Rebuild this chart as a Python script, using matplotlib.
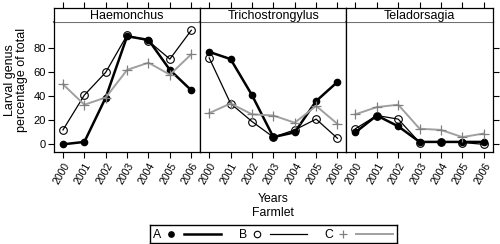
import matplotlib
matplotlib.use("Agg")
import matplotlib.pyplot as plt
import numpy as np

plt.rcParams['font.family'] = ['Liberation Sans', 'DejaVu Sans']

years = [2000, 2001, 2002, 2003, 2004, 2005, 2006]
genera = ['Haemonchus', 'Trichostrongylus', 'Teladorsagia']
farmlets = ['A', 'B', 'C']

# percentage of total, per genus, per farmlet
haem_a = [0, 2, 39, 90, 87, 62, 45]
haem_b = [12, 41, 60, 91, 86, 71, 95]
haem_c = [50, 33, 39, 62, 68, 58, 75]
tric_a = [77, 71, 41, 6, 10, 36, 52]
tric_b = [72, 34, 19, 6, 12, 21, 5]
tric_c = [26, 34, 25, 24, 18, 32, 17]
tela_a = [10, 24, 15, 2, 2, 2, 2]
tela_b = [13, 24, 21, 1.5, 2, 1.5, 0]
tela_c = [25, 31, 33, 13, 12, 6, 9]

data = {
    'Haemonchus': [haem_a, haem_b, haem_c],
    'Trichostrongylus': [tric_a, tric_b, tric_c],
    'Teladorsagia': [tela_a, tela_b, tela_c],
}

styles = [
    dict(color='black', lw=1.8, marker='o', ms=4.5, mfc='black', mec='black'),
    dict(color='black', lw=0.9, marker='o', ms=5.5, mfc='none', mec='black', mew=0.8),
    dict(color='#a0a0a0', lw=1.4, marker='+', ms=7, mfc='none', mec='#808080', mew=0.9),
]

W, H = 500, 244
fig = plt.figure(figsize=(W / 100, H / 100), dpi=100)

def box(x0, y0, x1, y1):
    # pixel box (top-left origin) -> figure fraction rect
    return [x0 / W, 1 - y1 / H, (x1 - x0) / W, (y1 - y0) / H]

left, right = 54, 492.7
top, strip_bot, bot = 7.7, 22, 152
pw = (right - left) / 3
xlim = (1999.58, 2006.42)
ylim = (-6.4, 101.9)

for i, g in enumerate(genera):
    x0 = left + i * pw
    ax = fig.add_axes(box(x0, strip_bot, x0 + pw, bot))
    for vals, st in zip(data[g], styles):
        ax.plot(years, vals, **st, clip_on=False)
    ax.set_xlim(*xlim)
    ax.set_ylim(*ylim)
    ax.set_xticks(years)
    ax.set_xticklabels([str(y) for y in years], rotation=60, ha='right',
                       va='top', rotation_mode='anchor', fontsize=7.5)
    ax.tick_params(axis='x', direction='out', length=4.5, width=0.8, pad=2)
    ax.set_yticks([0, 20, 40, 60, 80])
    if i == 0:
        ax.tick_params(axis='y', direction='out', length=4.5, width=0.8,
                       labelsize=8, pad=1.5)
    elif i == 2:
        ax.yaxis.tick_right()
        ax.tick_params(axis='y', direction='out', length=4.5, width=0.8,
                       labelright=False)
    else:
        ax.tick_params(axis='y', left=False, labelleft=False)
    ax.spines['top'].set_color('#707070')
    ax.spines['top'].set_linewidth(1.5)
    for s in ['left', 'right', 'bottom']:
        ax.spines[s].set_linewidth(0.9)

    # strip
    sx = fig.add_axes(box(x0, top, x0 + pw, strip_bot))
    sx.set_xlim(*xlim)
    sx.set_xticks(years)
    sx.xaxis.tick_top()
    sx.tick_params(axis='x', direction='out', length=4.5, width=0.8,
                   labeltop=False)
    sx.set_yticks([])
    sx.spines['bottom'].set_visible(False)
    for s in ['left', 'right', 'top']:
        sx.spines[s].set_linewidth(0.9)
    sx.text(0.5, 0.45, g, transform=sx.transAxes, ha='center', va='center',
            fontsize=9)

fig.text(16 / W, 1 - 80 / H, 'Larval genus\npercentage of total',
         rotation=90, ha='center', va='center', fontsize=9, linespacing=1.05)
fig.text((left + right) / 2 / W, 1 - 199 / H, 'Years', ha='center',
         va='center', fontsize=8.8)
fig.text((left + right) / 2 / W, 1 - 212.5 / H, 'Farmlet', ha='center',
         va='center', fontsize=8.8)

# legend key
lg = fig.add_axes(box(150, 225, 397, 242.7))
lg.set_xlim(150, 397)
lg.set_ylim(0, 1)
lg.set_xticks([])
lg.set_yticks([])
for s in lg.spines.values():
    s.set_linewidth(1.0)
for k, (name, st) in enumerate(zip(farmlets, styles)):
    bx = 157 + k * 86
    lg.text(bx, 0.45, name, ha='center', va='center', fontsize=8.8)
    lg.plot([bx + 14], [0.5], marker=st['marker'], ms=st['ms'] * 0.85,
            mfc=st['mfc'], mec=st['mec'], mew=st.get('mew', 1), ls='none')
    lg.plot([bx + 27, bx + 64], [0.5, 0.5], color=st['color'], lw=st['lw'])

fig.savefig('out.png', dpi=100)
